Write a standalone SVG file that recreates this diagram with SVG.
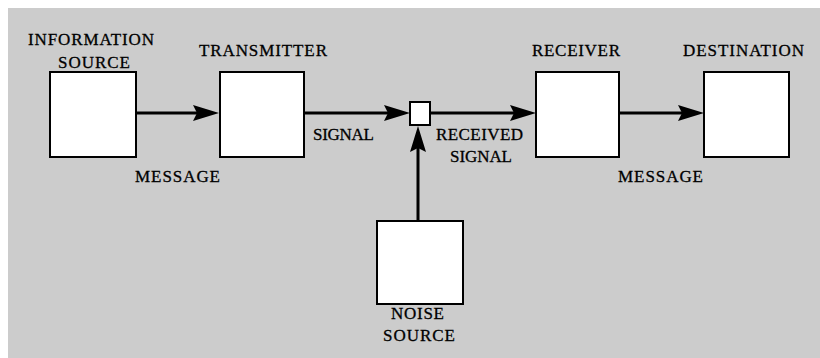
<svg xmlns="http://www.w3.org/2000/svg" width="820" height="358" viewBox="0 0 820 358">
<style>
.box{fill:#fff;stroke:#000;stroke-width:2}
.ln{stroke:#000;stroke-width:3;fill:none}
.ah{fill:#000}
text{font-family:"Liberation Serif","Times New Roman",serif;font-size:17px;fill:#000;stroke:#000;stroke-width:0.3}
</style>
<rect x="0" y="0" width="820" height="358" fill="#fff"/>
<rect x="8" y="8" width="812" height="350" fill="#cccccc"/>
<g id="connectors">
<line class="ln" x1="136" y1="113" x2="200" y2="113"/>
<polygon class="ah" points="219,113 193,105 197,113 193,121"/>
<line class="ln" x1="304" y1="113" x2="390" y2="113"/>
<polygon class="ah" points="410,113 384,105 388,113 384,121"/>
<line class="ln" x1="430" y1="113" x2="516" y2="113"/>
<polygon class="ah" points="536,113 510,105 514,113 510,121"/>
<line class="ln" x1="619" y1="113" x2="684" y2="113"/>
<polygon class="ah" points="704,113 678,105 682,113 678,121"/>
<line class="ln" x1="418" y1="221" x2="418" y2="145"/>
<polygon class="ah" points="418,126 410,152 418,148 426,152"/>
</g>
<g id="info-source">
<rect class="box" x="50" y="72" width="86" height="85"/>
<text x="28" y="45" textLength="126" lengthAdjust="spacing">INFORMATION</text>
<text x="58" y="68" textLength="72" lengthAdjust="spacing">SOURCE</text>
</g>
<g id="transmitter">
<rect class="box" x="220" y="72" width="84" height="85"/>
<text x="199" y="56" textLength="128" lengthAdjust="spacing">TRANSMITTER</text>
</g>
<g id="noise-junction">
<rect class="box" x="410" y="102" width="20" height="23"/>
</g>
<g id="receiver">
<rect class="box" x="536" y="72" width="83" height="85"/>
<text x="532" y="56" textLength="88" lengthAdjust="spacing">RECEIVER</text>
</g>
<g id="destination">
<rect class="box" x="704" y="72" width="85" height="85"/>
<text x="683" y="56" textLength="121" lengthAdjust="spacing">DESTINATION</text>
</g>
<g id="noise-source">
<rect class="box" x="377" y="221" width="86" height="83"/>
<text x="391" y="319" textLength="53" lengthAdjust="spacing">NOISE</text>
<text x="383" y="341" textLength="72" lengthAdjust="spacing">SOURCE</text>
</g>
<g id="labels">
<text x="135" y="182" textLength="85" lengthAdjust="spacing">MESSAGE</text>
<text x="313" y="140" textLength="61" lengthAdjust="spacing">SIGNAL</text>
<text x="436" y="140" textLength="87" lengthAdjust="spacing">RECEIVED</text>
<text x="450" y="162" textLength="62" lengthAdjust="spacing">SIGNAL</text>
<text x="618" y="182" textLength="85" lengthAdjust="spacing">MESSAGE</text>
</g>
</svg>
